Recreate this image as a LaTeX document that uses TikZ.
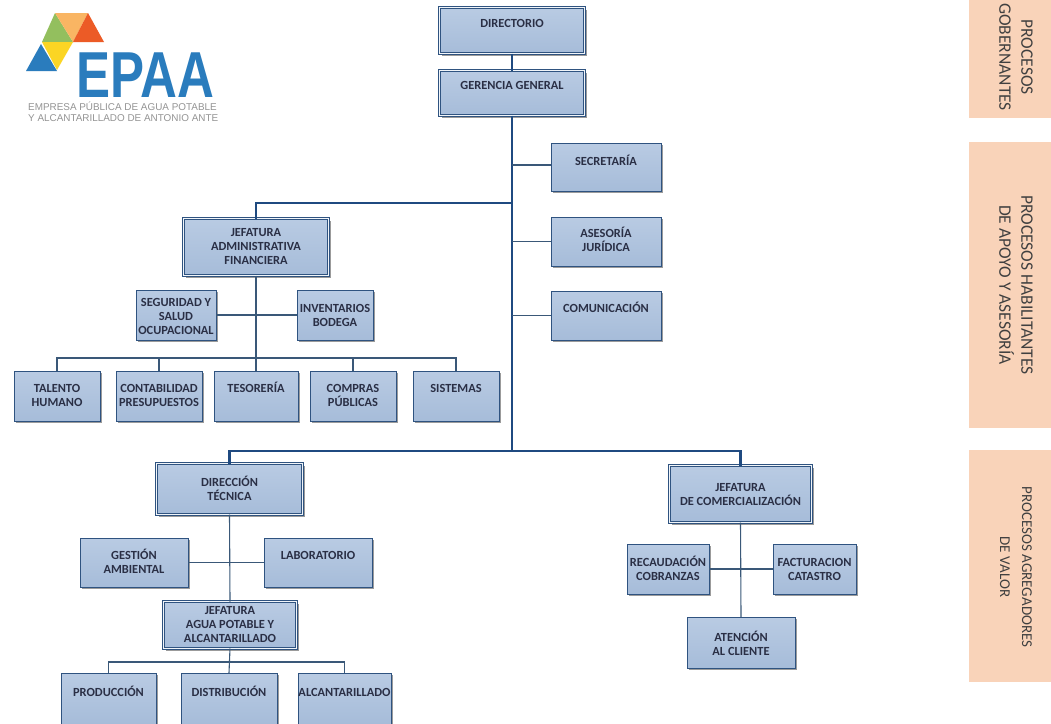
\documentclass[tikz,border=0pt]{standalone}
\usepackage{fontspec}
\usepackage{graphicx}
\setmainfont{Carlito}
\newfontfamily\logofont{Liberation Sans}
\usetikzlibrary{shadows,calc}
\definecolor{boxline}{HTML}{2F5380}
\definecolor{boxtop}{HTML}{B9CBE3}
\definecolor{boxbot}{HTML}{A6BCD9}
\definecolor{thin}{HTML}{3A5878}
\definecolor{thick}{HTML}{1F4A80}
\definecolor{peach}{HTML}{F9D3B9}
\definecolor{logoblue}{HTML}{2A7CBD}
\definecolor{boxtext}{HTML}{2A2F45}
\definecolor{lgreen}{HTML}{93BF5E}
\definecolor{lorange}{HTML}{F9B563}
\definecolor{lred}{HTML}{EC5B26}
\definecolor{lyellow}{HTML}{FBD524}
\tikzset{
  orgplain/.style={draw=boxline,line width=1pt,top color=boxtop,bottom color=boxbot,inner sep=0pt,outer sep=0pt,
    drop shadow={shadow xshift=2.2pt,shadow yshift=-2.4pt,fill=black!60,opacity=.65},anchor=north west,text=boxtext},
  orgdouble/.style={orgplain,double=white!80!boxtop,double distance=1pt,line width=1.3pt},
  thinline/.style={draw=thin,line width=1.1pt},
  thickline/.style={draw=thick,line width=2.2pt},
  band/.style={fill=peach,draw=none,anchor=north west,inner sep=0pt,outer sep=0pt},
  bandtext/.style={rotate=-90,text=black!75,font=\fontsize{17.5}{22}\selectfont,align=center,inner sep=0pt},
  logotext/.style={text=black!42,font=\logofont\fontsize{9.9}{11}\selectfont,inner sep=0pt,anchor=west}
}
% style, name, x1, y1, x2, y2, top offset, text
\newcommand\orgbox[8][orgplain]{%
  \node[#1] (#2) at (#3,#4) {\parbox[c][\dimexpr #6pt-#4pt\relax][t]{\dimexpr #5pt-#3pt\relax}{%
    \centering\fontsize{12.4}{14}\bfseries\selectfont\vspace*{#7pt}#8\par}};%
}
\begin{document}
\begin{tikzpicture}[x=1pt,y=-1pt]
\useasboundingbox (0,0) rectangle (1051,723);
\fill[white] (0,0) rectangle (1051,723);
% side bands
\node[band,minimum width=82pt,minimum height=118pt] (bandA) at (969,0) {};
\node[band,minimum width=82pt,minimum height=286pt] (bandB) at (969,142) {};
\node[band,minimum width=82pt,minimum height=232pt] (bandC) at (969,450) {};
\node[bandtext] (bandAtext) at (1016,57) {PROCESOS\\GOBERNANTES};
\node[bandtext] (bandBtext) at (1016,285) {PROCESOS HABILITANTES\\DE APOYO Y ASESORÍA};
\node[bandtext,font=\fontsize{15}{22}\selectfont] (bandCtext) at (1016,567) {PROCESOS AGREGADORES\\DE VALOR};
% logo
\fill[lgreen] (55,13) -- (42,42) -- (73,42) -- cycle;
\fill[lorange] (55,13) -- (88,13) -- (73,42) -- cycle;
\fill[lred] (88,13) -- (73,42) -- (104,42) -- cycle;
\fill[lyellow] (42,42) -- (73,42) -- (57,70) -- cycle;
\fill[logoblue] (41,44) -- (57,71) -- (26,71) -- cycle;
\node[inner sep=0pt,anchor=south west,text=logoblue] (logoname) at (76,97.5) {\scalebox{0.785}[1]{\logofont\bfseries\fontsize{65}{65}\selectfont EPAA}};
\node[logotext] (logoa) at (28,106) {EMPRESA PÚBLICA DE AGUA POTABLE};
\node[logotext] (logob) at (28,118) {Y ALCANTARILLADO DE ANTONIO ANTE};
% boxes
\orgbox[orgdouble]{dir}{439.5}{7.5}{584.5}{53.5}{12}{DIRECTORIO}
\orgbox[orgdouble]{ger}{439.5}{70.5}{584.5}{115.5}{11}{GERENCIA GENERAL}
\orgbox{sec}{551}{143}{661}{191}{12}{SECRETARÍA}
\orgbox{ase}{551}{217}{661}{266}{10.5}{ASESORÍA\\JURÍDICA}
\orgbox{com}{551}{291}{661}{340}{11.5}{COMUNICACIÓN}
\orgbox[orgdouble]{adm}{183.5}{218.5}{328.5}{275.5}{10}{JEFATURA\\ADMINISTRATIVA\\FINANCIERA}
\orgbox{seg}{136}{290}{216}{340}{8.5}{SEGURIDAD Y\\SALUD\\OCUPACIONAL}
\orgbox{inv}{297}{290}{373}{340}{14.5}{INVENTARIOS\\BODEGA}
\orgbox{tal}{14}{371}{100}{421}{13.5}{TALENTO\\HUMANO}
\orgbox{con}{116}{371}{202}{421}{13.5}{CONTABILIDAD\\PRESUPUESTOS}
\orgbox{tes}{214}{371}{298}{421}{11.5}{TESORERÍA}
\orgbox{cmp}{310}{371}{396}{421}{13.5}{COMPRAS\\PÚBLICAS}
\orgbox{sis}{413}{371}{499}{421}{13.5}{SISTEMAS}
\orgbox[orgdouble]{tec}{156.5}{463.5}{302.5}{514.5}{13}{DIRECCIÓN\\TÉCNICA}
\orgbox{ges}{80}{538}{188}{587}{11.5}{GESTIÓN\\AMBIENTAL}
\orgbox{lab}{264}{538}{372}{587}{13.5}{LABORATORIO}
\orgbox[orgdouble]{agu}{163.5}{601.5}{296.5}{648.5}{5}{JEFATURA\\AGUA POTABLE Y\\ALCANTARILLADO}
\orgbox{pro}{61}{673}{156}{724}{13.5}{PRODUCCIÓN}
\orgbox{dis}{181}{673}{277}{724}{13.5}{DISTRIBUCIÓN}
\orgbox{alc}{298}{673}{391}{724}{15.5}{ALCANTARILLADO}
\orgbox[orgdouble]{cme}{669.5}{465.5}{811.5}{522.5}{18}{JEFATURA\\DE COMERCIALIZACIÓN}
\orgbox{rec}{627}{544}{709}{594}{12.5}{RECAUDACIÓN\\COBRANZAS}
\orgbox{fac}{773}{544}{856}{594}{14.5}{FACTURACION\\CATASTRO}
\orgbox{ate}{687}{617}{795}{668}{14.5}{ATENCIÓN\\AL CLIENTE}
% free junctions
\coordinate (upper) at (ger.south |- 0,203);
\coordinate (lower) at (ger.south |- 0,451);
\coordinate (busadm) at (adm.south |- 0,358);
\coordinate (busagu) at (agu.south |- 0,662);
\coordinate (secport) at ($(sec.west)+(0,-2)$);
% connectors
\draw[thickline] (dir.south) -- (ger.north);
\draw[thickline] (ger.south) -- (lower);
\draw[thickline] (adm.north) |- (upper);
\draw[thickline] (tec.north) |- (lower);
\draw[thickline] (cme.north) |- (lower);
\draw[thinline] (secport) -- (secport -| ger.south);
\draw[thinline] (ase.west) -- (ase.west -| ger.south);
\draw[thinline] (com.west) -- (com.west -| ger.south);
\draw[thinline] (adm.south) -- (tes.north);
\draw[thinline] (seg.east) -- (inv.west);
\draw[thinline] (tal.north) |- (busadm);
\draw[thinline] (con.north) |- (busadm);
\draw[thinline] (cmp.north) |- (busadm);
\draw[thinline] (sis.north) |- (busadm);
\draw[thinline] (tec.south) -- (agu.north);
\draw[thinline] (ges.east) -- (lab.west);
\draw[thinline] (agu.south) -- (dis.north);
\draw[thinline] (pro.north) |- (busagu);
\draw[thinline] (alc.north) |- (busagu);
\draw[thinline] (cme.south) -- (ate.north);
\draw[thinline] (rec.east) -- (fac.west);
\end{tikzpicture}
\end{document}
